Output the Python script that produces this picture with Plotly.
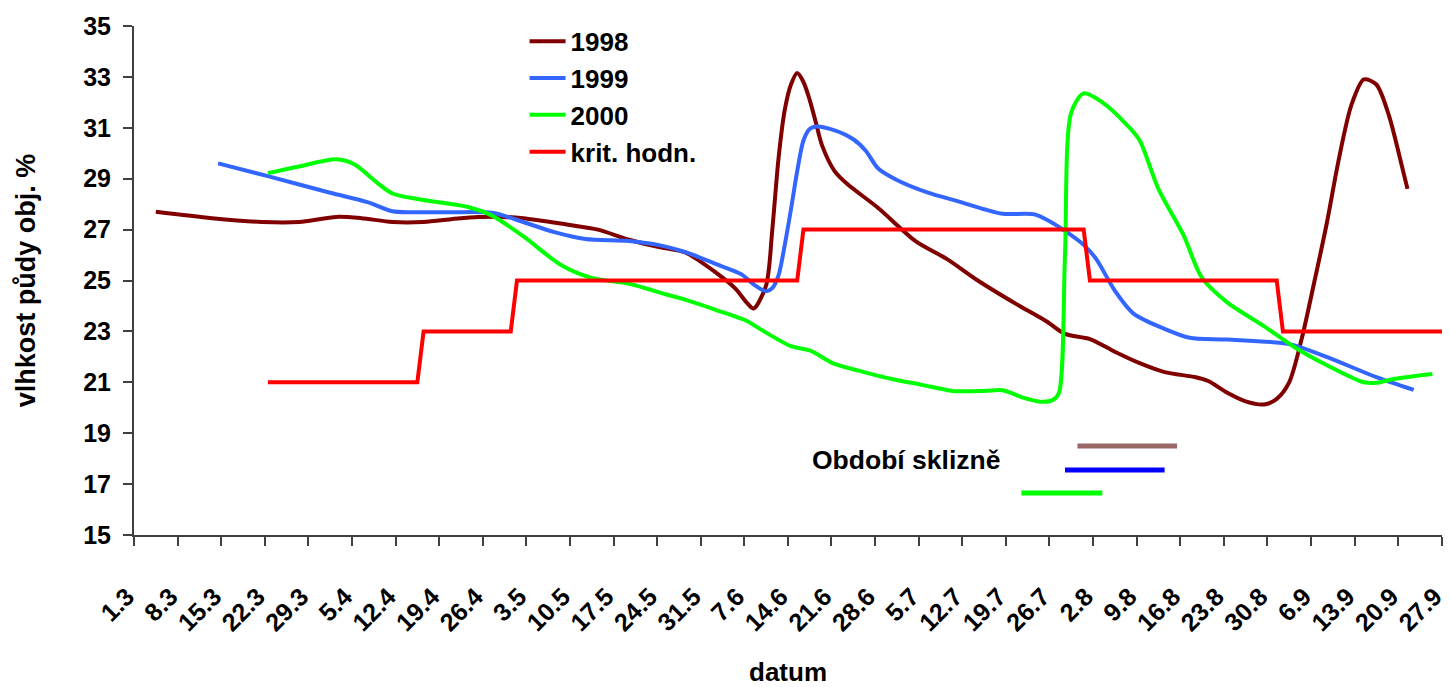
import plotly.graph_objects as go

# Season axis: all years are plotted on one common day.month calendar
SEASON_YEAR = 2001


def to_date(dm, midday=True):
    """'d.m' -> ISO date; daily readings sit in the middle of their day."""
    d, m = dm.split(".")
    iso = f"{SEASON_YEAR}-{int(m):02d}-{int(d):02d}"
    return iso + " 12:00" if midday else iso


# --- soil moisture, 1998 ---
dates_1998 = ["4.3", "13.3", "21.3", "27.3", "2.4", "6.4", "11.4", "16.4", "22.4", "28.4",
              "2.5", "9.5", "14.5", "19.5", "24.5", "28.5", "2.6", "5.6", "7.6", "8.6",
              "10.6", "11.6", "12.6", "13.6", "14.6", "15.6", "16.6", "17.6", "18.6", "19.6",
              "21.6", "23.6", "28.6", "4.7", "9.7", "14.7", "20.7", "25.7", "28.7", "1.8",
              "5.8", "9.8", "13.8", "18.8", "20.8", "23.8", "26.8", "29.8", "31.8", "2.9",
              "4.9", "6.9", "8.9", "10.9", "12.9", "14.9", "16.9", "18.9", "20.9", "21.9"]
values_1998 = [27.7, 27.45, 27.3, 27.3, 27.5, 27.45, 27.3, 27.3, 27.45, 27.5,
               27.45, 27.2, 27.0, 26.6, 26.3, 26.1, 25.3, 24.7, 24.1, 23.9,
               24.8, 27.0, 29.8, 31.7, 32.7, 33.15, 32.8, 32.1, 31.2, 30.3,
               29.3, 28.8, 27.85, 26.55, 25.85, 25.0, 24.1, 23.4, 22.9, 22.7,
               22.2, 21.75, 21.4, 21.2, 21.05, 20.6, 20.25, 20.13, 20.35, 21.0,
               22.7, 24.9, 27.2, 29.8, 31.9, 32.9, 32.7, 31.5, 29.6, 28.6]

# --- soil moisture, 1999 ---
dates_1999 = ["14.3", "22.3", "1.4", "7.4", "11.4", "14.4", "20.4", "27.4", "2.5", "7.5",
              "12.5", "19.5", "24.5", "28.5", "2.6", "6.6", "8.6", "10.6", "11.6", "12.6",
              "13.6", "14.6", "15.6", "16.6", "17.6", "18.6", "21.6", "24.6", "26.6", "28.6",
              "1.7", "6.7", "11.7", "15.7", "18.7", "23.7", "25.7", "28.7", "31.7", "2.8",
              "5.8", "8.8", "13.8", "17.8", "23.8", "2.9", "8.9", "16.9", "22.9"]
values_1999 = [29.6, 29.1, 28.45, 28.08, 27.72, 27.68, 27.68, 27.66, 27.3, 26.9,
               26.63, 26.55, 26.38, 26.12, 25.64, 25.25, 24.85, 24.58, 24.7, 25.2,
               26.4, 27.8, 29.3, 30.5, 30.95, 31.05, 30.9, 30.55, 30.1, 29.4,
               28.95, 28.45, 28.1, 27.8, 27.62, 27.6, 27.4, 26.95, 26.4, 25.85,
               24.6, 23.7, 23.1, 22.75, 22.68, 22.5, 22.0, 21.2, 20.7]

# --- soil moisture, 2000 ---
dates_2000 = ["22.3", "27.3", "2.4", "5.4", "8.4", "11.4", "15.4", "23.4", "27.4", "2.5",
              "8.5", "13.5", "19.5", "25.5", "28.5", "2.6", "7.6", "9.6", "14.6", "17.6",
              "21.6", "25.6", "30.6", "5.7", "10.7", "15.7", "18.7", "21.7", "24.7", "26.7",
              "27.7", "28.7", "29.7", "31.7", "3.8", "7.8", "9.8", "12.8", "16.8", "19.8",
              "23.8", "29.8", "3.9", "8.9", "14.9", "16.9", "19.9", "25.9"]
values_2000 = [29.22, 29.48, 29.76, 29.55, 28.95, 28.42, 28.2, 27.9, 27.55, 26.74,
               25.62, 25.1, 24.87, 24.45, 24.25, 23.84, 23.4, 23.1, 22.42, 22.25,
               21.72, 21.45, 21.14, 20.9, 20.66, 20.66, 20.69, 20.42, 20.24, 20.3,
               20.56, 26.0, 31.6, 32.35, 32.0, 31.1, 30.5, 28.6, 26.8, 25.1,
               24.15, 23.2, 22.36, 21.68, 21.0, 20.98, 21.14, 21.33]

# --- critical value (step line) ---
dates_krit = ["22.3", "15.4", "16.4", "30.4", "1.5", "15.6", "16.6", "31.7", "1.8",
              "31.8", "1.9", "28.9"]
values_krit = [21, 21, 23, 23, 25, 25, 27, 27, 25, 25, 23, 23]

# --- harvest periods (start, end) per year ---
harvest_years = ["1998", "1999", "2000"]
harvest_start = ["30.7", "28.7", "21.7"]
harvest_end = ["15.8", "13.8", "3.8"]

# x-axis tick labels (weekly)
tick_labels = ["1.3", "8.3", "15.3", "22.3", "29.3", "5.4", "12.4", "19.4", "26.4",
               "3.5", "10.5", "17.5", "24.5", "31.5", "7.6", "14.6", "21.6", "28.6",
               "5.7", "12.7", "19.7", "26.7", "2.8", "9.8", "16.8", "23.8", "30.8",
               "6.9", "13.9", "20.9", "27.9"]

FONT = "Liberation Sans, Arial, sans-serif"
colors = {"1998": "#800000", "1999": "#3366FF", "2000": "#00FF00", "krit": "#FF0000"}
harvest_colors = {"1998": "#996666", "1999": "#0000FF", "2000": "#00FF00"}
harvest_levels = {"1998": 18.5, "1999": 17.55, "2000": 16.65}

fig = go.Figure()

series = [("1998", dates_1998, values_1998),
          ("1999", dates_1999, values_1999),
          ("2000", dates_2000, values_2000)]
for name, dts, vals in series:
    fig.add_trace(go.Scatter(
        x=[to_date(d) for d in dts], y=vals, name=name, mode="lines",
        line=dict(color=colors[name], width=4, shape="spline", smoothing=0.8),
        legendgroup=name,
    ))

fig.add_trace(go.Scatter(
    x=[to_date(d) for d in dates_krit], y=values_krit, name="krit. hodn.",
    mode="lines", line=dict(color=colors["krit"], width=4), legendgroup="krit",
))

# harvest period bars
for yr, s, e in zip(harvest_years, harvest_start, harvest_end):
    lvl = harvest_levels[yr]
    fig.add_trace(go.Scatter(
        x=[to_date(s), to_date(e)], y=[lvl, lvl], mode="lines",
        line=dict(color=harvest_colors[yr], width=5), showlegend=False,
        hoverinfo="skip",
    ))

fig.add_annotation(
    text="<b>Období sklizně</b>", xref="paper", yref="paper",
    x=0.517, y=0.148, xanchor="left", yanchor="middle", showarrow=False,
    font=dict(family=FONT, size=26.5, color="black"),
)

tickvals = [to_date(t, midday=False) for t in tick_labels]

fig.update_layout(
    width=1450, height=687,
    margin=dict(l=134, r=3, t=26, b=143),
    paper_bgcolor="white", plot_bgcolor="white",
    font=dict(family=FONT, size=25, color="black", weight="bold"),
    legend=dict(
        x=0.2986, y=1.016, xanchor="left", yanchor="top",
        bgcolor="rgba(0,0,0,0)", tracegroupgap=0,
        font=dict(family=FONT, size=26, color="black", weight="bold"),
        itemwidth=36,
    ),
    xaxis=dict(
        type="date",
        range=[to_date("1.3", midday=False), to_date("27.9", midday=False) + " 01:00"],
        tickvals=tickvals, ticktext=tick_labels, tickangle=-45,
        ticks="outside", ticklen=9, tickwidth=1.5, tickcolor="#404040",
        showline=True, linecolor="#404040", linewidth=2,
        showgrid=False, zeroline=False,
        ticklabelstandoff=26, ticklabelshift=-7, ticklabeloverflow="allow",
        tickfont=dict(family=FONT, size=25, color="black", weight="bold"),
        title=dict(text="datum", standoff=30,
                   font=dict(family=FONT, size=26, color="black", weight="bold")),
    ),
    yaxis=dict(
        range=[15, 35], dtick=2, tick0=15,
        ticks="outside", ticklen=9, tickwidth=1.5, tickcolor="#404040",
        showline=True, linecolor="#404040", linewidth=2,
        showgrid=False, zeroline=False,
        ticklabelstandoff=7,
        tickfont=dict(family=FONT, size=25, color="black", weight="bold"),
        title=dict(text="vlhkost půdy obj. %", standoff=40,
                   font=dict(family=FONT, size=27, color="black", weight="bold")),
    ),
    showlegend=True,
)

fig.write_html("out.html")
